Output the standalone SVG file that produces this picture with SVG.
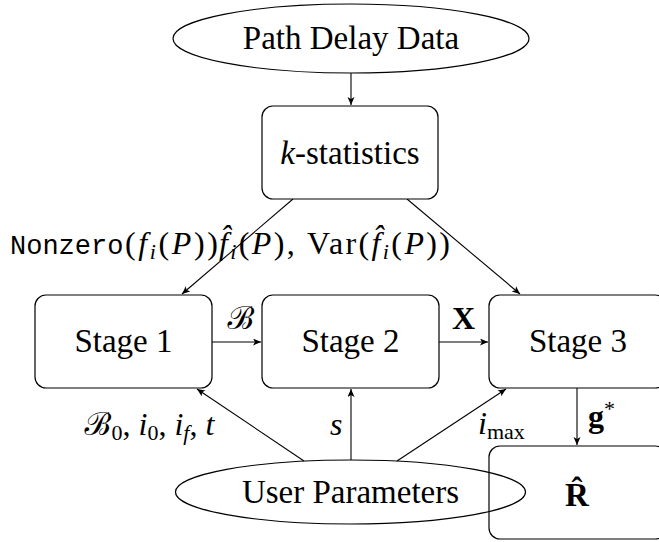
<svg xmlns="http://www.w3.org/2000/svg" width="659" height="542" viewBox="0 0 659 542">
<style>
.box{fill:#fff;stroke:#000;stroke-width:1.2}
.ell{fill:none;stroke:#000;stroke-width:1.2}
.t{font-family:'Liberation Serif','Times New Roman','DejaVu Serif',serif;font-size:33px;text-anchor:middle;fill:#000}
.m{font-family:'Liberation Serif','Times New Roman','DejaVu Serif',serif;font-size:32px;fill:#000}
.i{font-style:italic}
.s{font-size:22px}
.cal{font-family:'DejaVu Serif','Noto Sans',serif;font-style:italic}
.mono{font-family:'Liberation Mono','DejaVu Sans Mono',monospace;font-size:27px;fill:#000}
.c line{stroke:#000;stroke-width:1.1;marker-end:url(#ah)}
</style>
<defs>
<marker id="ah" markerUnits="userSpaceOnUse" markerWidth="10" markerHeight="8" refX="8" refY="3.5" orient="auto">
<path d="M0,0 L8,3.5 L0,7 L2,3.5 z" fill="#000"/>
</marker>
</defs>
<g class="c" id="connectors">
<line x1="351" y1="73" x2="351" y2="105"/>
<line x1="293" y1="199" x2="182" y2="294"/>
<line x1="407" y1="199" x2="520" y2="294"/>
<line x1="212" y1="342" x2="261" y2="342"/>
<line x1="439" y1="342" x2="488" y2="342"/>
<line x1="304" y1="461" x2="197" y2="389"/>
<line x1="351" y1="460" x2="351" y2="389"/>
<line x1="397" y1="461" x2="506" y2="389"/>
<line x1="577" y1="388" x2="577" y2="445"/>
</g>
<g id="path-delay-data">
<ellipse class="ell" cx="351" cy="38.5" rx="178" ry="34.5"/>
<text class="t" x="351" y="49">Path Delay Data</text>
</g>
<g id="k-statistics">
<rect class="box" x="262" y="106" width="176" height="93" rx="11"/>
<text class="t" x="350" y="164"><tspan class="i">k</tspan>-statistics</text>
</g>
<g id="stage1">
<rect class="box" x="35" y="295" width="177" height="93" rx="11"/>
<text class="t" x="123.5" y="352">Stage 1</text>
</g>
<g id="stage2">
<rect class="box" x="262" y="295" width="177" height="93" rx="11"/>
<text class="t" x="350.5" y="352">Stage 2</text>
</g>
<g id="stage3">
<rect class="box" x="489" y="295" width="177" height="93" rx="11"/>
<text class="t" x="578" y="352">Stage 3</text>
</g>
<g id="r-hat">
<rect class="box" x="489" y="446" width="177" height="93" rx="11"/>
<text class="t" x="577" y="506" font-weight="bold">R̂</text>
</g>
<g id="user-parameters">
<ellipse class="ell" cx="350.5" cy="492" rx="175" ry="32"/>
<text class="t" x="350.5" y="503">User Parameters</text>
</g>
<g id="labels">
<text class="mono" x="10" y="254">Nonzero</text>
<text class="m" x="125" y="254" textLength="93" lengthAdjust="spacing">(<tspan class="i">f</tspan><tspan class="i s" dy="5">i</tspan><tspan dy="-5">(</tspan><tspan class="i">P</tspan>))</text>
<text class="m" x="219" y="254" textLength="231" lengthAdjust="spacing"><tspan class="i">f̂</tspan><tspan class="i s" dy="5">i</tspan><tspan dy="-5">(</tspan><tspan class="i">P</tspan>), Var(<tspan class="i">f̂</tspan><tspan class="i s" dy="5">i</tspan><tspan dy="-5">(</tspan><tspan class="i">P</tspan>))</text>
<text class="m" x="227" y="329"><tspan class="cal">ℬ</tspan></text>
<text class="m" x="452" y="329" font-weight="bold">X</text>
<text class="m" x="84" y="435"><tspan class="cal">ℬ</tspan><tspan class="s" dy="5">0</tspan><tspan dy="-5">, </tspan><tspan class="i">i</tspan><tspan class="s" dy="5">0</tspan><tspan dy="-5">, </tspan><tspan class="i">i</tspan><tspan class="i s" dy="5">f</tspan><tspan dy="-5">, </tspan><tspan class="i">t</tspan></text>
<text class="m i" x="330" y="435">s</text>
<text class="m" x="478" y="434"><tspan class="i">i</tspan><tspan class="s" dy="5">max</tspan></text>
<text class="m" x="588" y="427" font-weight="bold">g<tspan class="s" font-weight="normal" dy="-11">*</tspan></text>
</g>
</svg>
